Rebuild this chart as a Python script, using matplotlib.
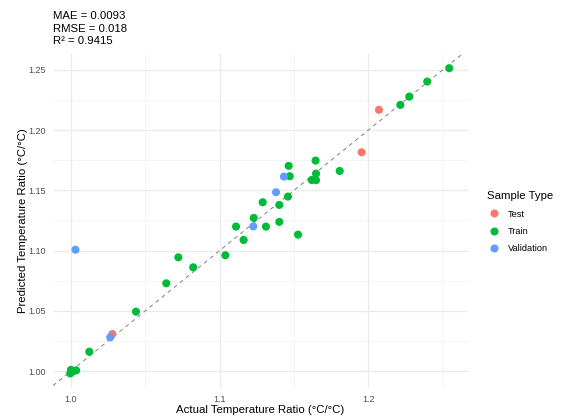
import matplotlib.pyplot as plt
from matplotlib.lines import Line2D
import numpy as np

plt.rcParams['font.family'] = ['Liberation Sans', 'DejaVu Sans']

# Actual vs predicted ratios
train_actual = [1.000, 1.0035, 0.9995, 1.001, 1.0123, 1.0437, 1.0641, 1.0722,
                1.0822, 1.1038, 1.1110, 1.1161, 1.1229, 1.1289, 1.1311, 1.1401,
                1.1401, 1.1459, 1.1464, 1.1471, 1.1527, 1.1619, 1.1645, 1.1648,
                1.1648, 1.1807, 1.2215, 1.2275, 1.2396, 1.2544]
train_pred = [1.001, 1.0005, 0.998, 0.9995, 1.0160, 1.0493, 1.0728, 1.0944,
              1.0861, 1.0961, 1.1199, 1.1088, 1.1271, 1.1401, 1.1199, 1.1379,
              1.1238, 1.1448, 1.1703, 1.1617, 1.1132, 1.1586, 1.1747, 1.1639,
              1.1584, 1.1661, 1.2209, 1.2278, 1.2403, 1.2514]
test_actual = [1.0278, 1.1955, 1.2071]
test_pred = [1.0307, 1.1816, 1.2168]
val_actual = [1.0030, 1.0264, 1.1226, 1.1379, 1.1432]
val_pred = [1.1007, 1.0280, 1.1201, 1.1484, 1.1614]

metric_lines = ["MAE = 0.0093", "RMSE = 0.018", "R\u00b2 = 0.9415"]
group_names = ["Test", "Train", "Validation"]
group_colors = ["#F8766D", "#00BA38", "#619CFF"]

fig = plt.figure(figsize=(5.64, 4.18), dpi=100)
ax = fig.add_axes([53 / 564, 30 / 418, 415 / 564, 335 / 418])

ax.set_xlim(0.9879, 1.267)
ax.set_ylim(0.9859, 1.264)

ax.set_xticks([1.0, 1.1, 1.2])
ax.set_xticklabels(["1.0", "1.1", "1.2"])
ax.set_xticks([1.05, 1.15, 1.25], minor=True)
ax.set_yticks([1.00, 1.05, 1.10, 1.15, 1.20, 1.25])
ax.set_yticklabels(["1.00", "1.05", "1.10", "1.15", "1.20", "1.25"])
ax.set_yticks(np.arange(1.025, 1.26, 0.05), minor=True)

ax.grid(which='major', color='#EBEBEB', linewidth=1.0)
ax.grid(which='minor', color='#F2F2F2', linewidth=0.5)
ax.set_axisbelow(True)
for s in ax.spines.values():
    s.set_visible(False)
ax.tick_params(which='both', length=0, labelsize=6.5, labelcolor='#4D4D4D', pad=5)

ax.axline((1.0, 1.0), slope=1, color='#7F7F7F', linewidth=0.7,
          linestyle=(0, (4, 4)), zorder=2)

groups = [(test_actual, test_pred), (train_actual, train_pred), (val_actual, val_pred)]
for (xs, ys), c in zip(groups, group_colors):
    ax.scatter(xs, ys, s=34, color=c, edgecolors='none', zorder=3)

ax.set_xlabel("Actual Temperature Ratio (\u00b0C/\u00b0C)", fontsize=8.2, labelpad=1)
ax.set_ylabel("Predicted Temperature Ratio (\u00b0C/\u00b0C)", fontsize=8.2, labelpad=0.5)

for i, line in enumerate(metric_lines):
    fig.text(53 / 564, 1 - (15.7 + 12.8 * i) / 418, line, fontsize=8.2,
             ha='left', va='center')

handles = [Line2D([0], [0], marker='o', linestyle='none', markersize=5.8,
                  markerfacecolor=c, markeredgecolor='none', label=n)
           for n, c in zip(group_names, group_colors)]
leg = fig.legend(handles=handles, title="Sample Type", loc='upper left',
                 bbox_to_anchor=(480 / 564, 1 - 184 / 418), frameon=False,
                 fontsize=6.6, title_fontsize=8.2, handletextpad=0.7,
                 labelspacing=0.9, handlelength=1.5, borderpad=0.3)
leg._legend_box.align = 'left'

fig.savefig("out.png", dpi=100)
